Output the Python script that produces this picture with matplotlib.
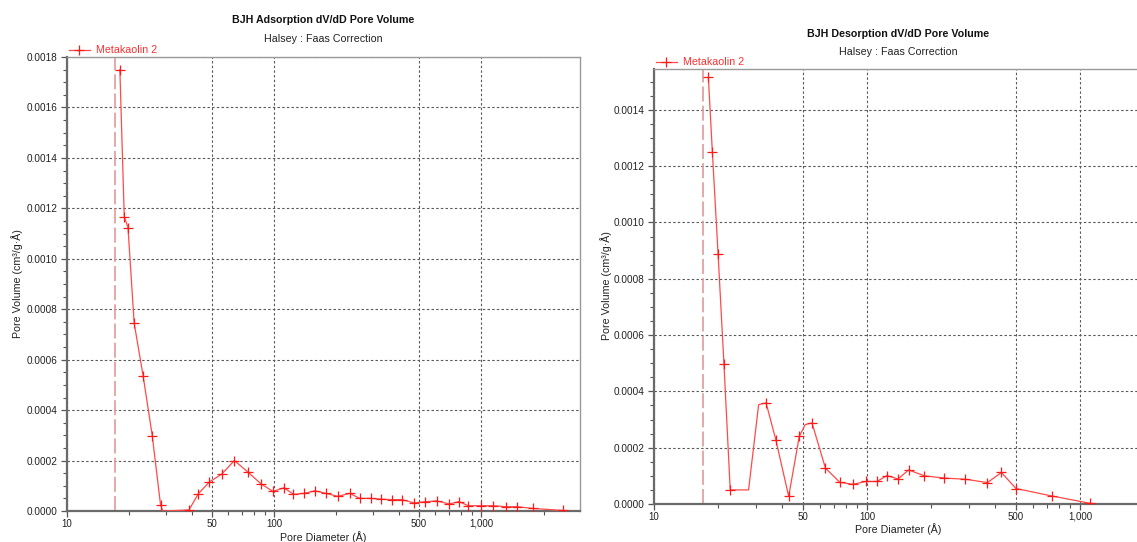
import matplotlib
matplotlib.use("Agg")
import matplotlib.pyplot as plt
from matplotlib.ticker import FixedLocator, FuncFormatter, MultipleLocator
from matplotlib.lines import Line2D

plt.rcParams['font.family'] = ['Liberation Sans', 'DejaVu Sans']

# ---------------- data ----------------
series_name = "Metakaolin 2"

# Adsorption (left) measured points
ads_diam = [18.0, 18.9, 19.7, 21.1, 23.3, 25.8, 28.3, 38.8, 43.1, 48.7, 55.8, 64.3,
            75.1, 86.3, 98.6, 111.8, 124.0, 140.0, 157.5, 178.0, 203.0, 232.0, 259.0,
            294.0, 329.0, 370.0, 415.0, 475.0, 537.0, 611.0, 699.0, 783.0, 865.0,
            1000.0, 1139.0, 1316.0, 1493.0, 1783.0, 2495.0]
ads_vol = [0.00175, 0.001167, 0.001124, 0.000745, 0.000537, 0.000299, 0.000024, 0.000004,
           0.000069, 0.000115, 0.000146, 0.000200, 0.000153, 0.000108, 0.000078, 0.000092,
           0.000066, 0.000070, 0.000080, 0.000070, 0.000058, 0.000070, 0.000050, 0.000050,
           0.000047, 0.000045, 0.000045, 0.000032, 0.000037, 0.000040, 0.000028, 0.000037,
           0.000021, 0.000021, 0.000021, 0.000017, 0.000017, 0.000010, 0.000002]
# bends of the drawn curve that carry no marker
ads_bend_diam = [29.0]
ads_bend_vol = [0.0]

# Desorption (right) measured points
des_diam = [18.0, 18.8, 20.0, 21.3, 22.8, 33.6, 37.4, 42.9, 48.1, 55.2, 63.8, 74.5,
            86.0, 98.8, 111.6, 124.0, 140.0, 157.0, 186.0, 231.0, 290.0, 368.0, 428.0,
            501.0, 736.0, 1117.0]
des_vol = [0.001516, 0.001249, 0.000887, 0.000499, 0.000050, 0.000359, 0.000226, 0.000027,
           0.000240, 0.000288, 0.000128, 0.000077, 0.000070, 0.000080, 0.000080, 0.000101,
           0.000089, 0.000121, 0.000100, 0.000092, 0.000088, 0.000076, 0.000112, 0.000055,
           0.0000286, 0.0000024]
des_bend_diam = [27.8, 31.0, 51.3]
des_bend_vol = [0.000050, 0.000353, 0.000282]

start_diam = 17.0   # dashed vertical marker

x_major = [10, 50, 100, 500, 1000]
x_minor = [20, 30, 40, 60, 70, 80, 90, 200, 300, 400, 600, 700, 800, 900, 2000]

titles = ["BJH Adsorption dV/dD Pore Volume", "BJH Desorption dV/dD Pore Volume"]
subtitle = "Halsey : Faas Correction"
xlabel = "Pore Diameter (Å)"
ylabel = "Pore Volume (cm³/g·Å)"

# ---------------- figure ----------------
W, H = 1137, 542
fig = plt.figure(figsize=(W / 100, H / 100), dpi=100)


def px_axes(left, right, top, bottom):
    return fig.add_axes([left / W, 1 - bottom / H, (right - left) / W, (bottom - top) / H])


RED_LINE = '#ff4a4a'
RED_MK = '#ff1a1a'
GRID = '#5a5a5a'
FS = 7.7


def draw(ax, diam, vol, bdiam, bvol, xmax, ymax):
    pts = sorted(list(zip(diam, vol)) + list(zip(bdiam, bvol)))
    ax.plot([p[0] for p in pts], [p[1] for p in pts], color=RED_LINE, lw=0.9, zorder=3)
    ax.plot(diam, vol, ls='none', marker='+', ms=7, mew=0.9, color=RED_MK, zorder=4)
    ax.axvline(start_diam, color='#e39a9a', lw=1.2, dashes=(9, 2.5), zorder=2)
    ax.set_xscale('log')
    ax.set_xlim(10, xmax)
    ax.set_ylim(0, ymax)
    ax.xaxis.set_major_locator(FixedLocator(x_major))
    ax.xaxis.set_minor_locator(FixedLocator(x_minor))
    ax.xaxis.set_major_formatter(FuncFormatter(lambda v, p: f"{int(round(v)):,}"))
    ax.xaxis.set_minor_formatter(FuncFormatter(lambda v, p: ""))
    ax.yaxis.set_major_locator(MultipleLocator(0.0002))
    ax.yaxis.set_minor_locator(MultipleLocator(0.00005))
    ax.yaxis.set_major_formatter(FuncFormatter(lambda v, p: f"{v:.4f}"))
    ax.grid(True, which='major', color=GRID, lw=0.8, dashes=(2.2, 2.0), zorder=1)
    for s in ('left', 'bottom'):
        ax.spines[s].set_color('#6a6a6a')
        ax.spines[s].set_linewidth(1.6)
    for s in ('top', 'right'):
        ax.spines[s].set_color('#9a9a9a')
        ax.spines[s].set_linewidth(1.0)
    ax.tick_params(which='both', direction='out', colors='#555555', labelcolor='#222222',
                   labelsize=7.2)
    ax.tick_params(which='major', length=4, width=0.9, pad=3)
    ax.tick_params(axis='x', which='major', pad=1.5, labelsize=7.0)
    ax.tick_params(which='minor', length=3, width=0.8)
    h = Line2D([], [], color=RED_LINE, lw=0.9, marker='+', ms=7, mew=0.9,
               markeredgecolor=RED_MK)
    leg = ax.legend([h], [series_name], loc='lower left', bbox_to_anchor=(0.0, 1.0),
                    frameon=False, borderpad=0.0, borderaxespad=0.15, handlelength=2.0,
                    handletextpad=0.6, fontsize=FS)
    for t in leg.get_texts():
        t.set_color('#ff3030')


# left chart
axL = px_axes(67, 580, 57, 511)
draw(axL, ads_diam, ads_vol, ads_bend_diam, ads_bend_vol, 3000, 0.0018)

# right chart (its right part runs off the image)
axR = px_axes(654, 1144, 69, 504)
draw(axR, des_diam, des_vol, des_bend_diam, des_bend_vol, 2000, 0.001545)

# titles and labels
fig.text(323 / W, 1 - 20 / H, titles[0], ha='center', va='center', fontsize=FS,
         fontweight='bold', color='#111111')
fig.text(323 / W, 1 - 39 / H, subtitle, ha='center', va='center', fontsize=FS, color='#222222')
fig.text(898 / W, 1 - 34 / H, titles[1], ha='center', va='center', fontsize=FS,
         fontweight='bold', color='#111111')
fig.text(898 / W, 1 - 52 / H, subtitle, ha='center', va='center', fontsize=FS, color='#222222')

fig.text(323 / W, 1 - 537 / H, xlabel, ha='center', va='center', fontsize=FS, color='#222222')
fig.text(898 / W, 1 - 529 / H, xlabel, ha='center', va='center', fontsize=FS, color='#222222')
fig.text(17 / W, 1 - 284 / H, ylabel, ha='center', va='center', rotation=90, fontsize=FS,
         color='#222222')
fig.text(606 / W, 1 - 286 / H, ylabel, ha='center', va='center', rotation=90, fontsize=FS,
         color='#222222')

fig.savefig("out.png", dpi=100)
